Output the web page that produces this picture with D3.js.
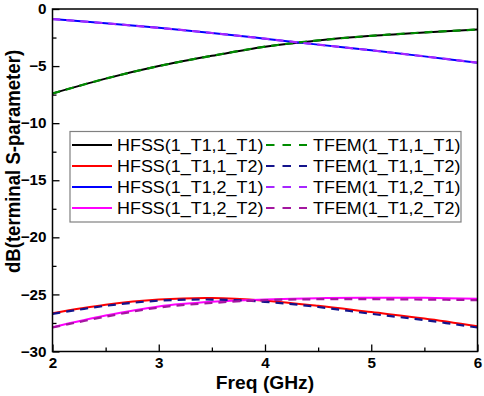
<!DOCTYPE html>
<html><head><meta charset="utf-8">
<script src="https://cdn.jsdelivr.net/npm/d3@7"></script>
<style>body{margin:0;background:#fff}svg{display:block}</style>
</head><body>
<script>
const freqs = [2, 2.5, 3, 3.5, 4, 4.5, 5, 5.5, 6];
const hfss11 = [-7.4, -6.1, -5.0, -4.1, -3.3, -2.75, -2.35, -2.05, -1.8];
const tfem11 = [-7.4, -6.1, -5.0, -4.1, -3.3, -2.75, -2.35, -2.05, -1.8];
const hfss12 = [-26.64, -25.9, -25.45, -25.32, -25.55, -26.0, -26.55, -27.1, -27.78];
const tfem12 = [-26.7, -26.0, -25.55, -25.45, -25.65, -26.1, -26.7, -27.25, -27.9];
const hfss21 = [-0.88, -1.25, -1.65, -2.1, -2.6, -3.12, -3.62, -4.15, -4.7];
const tfem21 = [-0.88, -1.25, -1.65, -2.1, -2.6, -3.12, -3.62, -4.15, -4.7];
const hfss22 = [-27.87, -26.85, -26.05, -25.65, -25.45, -25.33, -25.3, -25.3, -25.38];
const tfem22 = [-27.9, -26.95, -26.15, -25.75, -25.5, -25.42, -25.42, -25.45, -25.5];
const xTicks = [2, 3, 4, 5, 6];
const xMinor = [2.5, 3.5, 4.5, 5.5];
const yTicks = [0, -5, -10, -15, -20, -25, -30];
const yMinor = [-2.5, -7.5, -12.5, -17.5, -22.5, -27.5];
const hfssNames = ["HFSS(1_T1,1_T1)", "HFSS(1_T1,1_T2)", "HFSS(1_T1,2_T1)", "HFSS(1_T1,2_T2)"];
const tfemNames = ["TFEM(1_T1,1_T1)", "TFEM(1_T1,1_T2)", "TFEM(1_T1,2_T1)", "TFEM(1_T1,2_T2)"];
const hfssColors = ["#000000", "#ff0000", "#0000ff", "#ff00ff"];
const tfemColors = ["#008c00", "#14148c", "#a626ff", "#a3169f"];
const xLabel = "Freq (GHz)";
const yLabel = "dB(terminal S-parameter)";

const W = 484, H = 396;
const L = 52.5, R = 477.5, T = 9, B = 351.5;
const FONT = "'Liberation Sans', Arial, sans-serif";
const SX = 1.1, TSX = 1.05;

const svg = d3.select("body").append("svg").attr("width", W).attr("height", H);
const x = d3.scaleLinear().domain([2, 6]).range([L, R]);
const y = d3.scaleLinear().domain([-30, 0]).range([B, T]);

const hfss = [hfss11, hfss12, hfss21, hfss22];
const tfem = [tfem11, tfem12, tfem21, tfem22];

const line = d3.line().x(d => x(d[0])).y(d => y(d[1])).curve(d3.curveCatmullRom.alpha(0.5));
svg.append("clipPath").attr("id", "c").append("rect")
  .attr("x", L).attr("y", T).attr("width", R - L).attr("height", B - T);
const plot = svg.append("g").attr("clip-path", "url(#c)");

hfss.forEach((s, i) => {
  plot.append("path").datum(freqs.map((f, k) => [f, s[k]]))
    .attr("d", line).attr("fill", "none").attr("stroke", hfssColors[i]).attr("stroke-width", 2);
});
tfem.forEach((s, i) => {
  plot.append("path").datum(freqs.map((f, k) => [f, s[k]]))
    .attr("d", line).attr("fill", "none").attr("stroke", tfemColors[i]).attr("stroke-width", 2.2)
    .attr("stroke-dasharray", "8,6");
});

// axes
const xAx = d3.axisBottom(x).tickValues(xTicks).tickSize(-7).tickFormat(d3.format("d"));
const gx = svg.append("g").attr("transform", `translate(0,${B})`).call(xAx);
const xAxMinor = d3.axisBottom(x).tickValues(xMinor).tickSize(-4).tickFormat("");
const gxm = svg.append("g").attr("transform", `translate(0,${B})`).call(xAxMinor);
const yAx = d3.axisLeft(y).tickValues(yTicks).tickSize(-7).tickFormat(d3.format("d"));
const gy = svg.append("g").attr("transform", `translate(${L},0)`).call(yAx);
const yAxMinor = d3.axisLeft(y).tickValues(yMinor).tickSize(-4).tickFormat("");
const gym = svg.append("g").attr("transform", `translate(${L},0)`).call(yAxMinor);
[gx, gxm, gy, gym].forEach(g => {
  g.select(".domain").remove();
  g.selectAll(".tick line").attr("stroke", "#000").attr("stroke-width", 1.3);
});
[gx, gy].forEach(g => g.selectAll(".tick text")
  .attr("fill", "#000").attr("font-family", FONT).attr("font-weight", "bold").attr("font-size", 14.5));
gx.selectAll(".tick text").attr("dy", null).attr("y", 0).attr("x", 0)
  .attr("transform", `translate(0,16.5) scale(${TSX},1)`);
gy.selectAll(".tick text").attr("x", 0).attr("transform", `translate(-6,0) scale(${TSX},1)`);

// frame
svg.append("rect").attr("x", L).attr("y", T).attr("width", R - L).attr("height", B - T)
  .attr("fill", "none").attr("stroke", "#000").attr("stroke-width", 1.5);

// labels
svg.append("text").attr("transform", `translate(${(L + R) / 2},389) scale(${SX},1)`)
  .attr("text-anchor", "middle").attr("font-family", FONT).attr("font-weight", "bold")
  .attr("font-size", 17.5).text(xLabel);
svg.append("text").attr("transform", `translate(20,161.5) scale(1.05,1) rotate(-90)`)
  .attr("text-anchor", "middle").attr("font-family", FONT).attr("font-weight", "bold")
  .attr("font-size", 18.6).text(yLabel);

// legend
const lg = svg.append("g");
lg.append("rect").attr("x", 70).attr("y", 131.5).attr("width", 391).attr("height", 90.5)
  .attr("fill", "#fff").attr("stroke", "#808080").attr("stroke-width", 1.2);
hfssNames.forEach((n, i) => {
  const yy = 145 + i * 21;
  lg.append("line").attr("x1", 72).attr("x2", 112).attr("y1", yy).attr("y2", yy)
    .attr("stroke", hfssColors[i]).attr("stroke-width", 2);
  lg.append("text").attr("transform", `translate(117,${yy + 6}) scale(${SX},1)`)
    .attr("font-family", FONT).attr("font-size", 16.3).attr("fill", "#000").text(n);
  lg.append("line").attr("x1", 266).attr("x2", 307).attr("y1", yy).attr("y2", yy)
    .attr("stroke", tfemColors[i]).attr("stroke-width", 2.2).attr("stroke-dasharray", "8.5,8");
  lg.append("text").attr("transform", `translate(313,${yy + 6}) scale(${SX},1)`)
    .attr("font-family", FONT).attr("font-size", 16.3).attr("fill", "#000").text(tfemNames[i]);
});
</script>
</body></html>
